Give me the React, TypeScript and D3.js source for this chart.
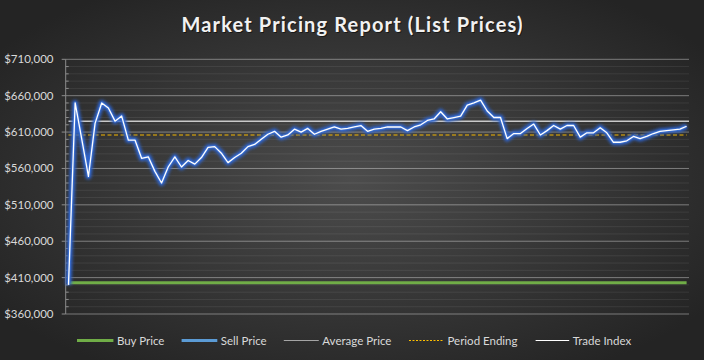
import React from "react";
import * as d3 from "d3";

const title = "Market Pricing Report (List Prices)";

// sell price per trade (thousands of dollars)
const sellPrice = [
  400, 650, 600, 549, 622, 650, 643, 625, 632, 599, 599, 574, 576, 556, 540, 562,
  576, 562, 571, 566, 575, 589, 590, 581, 568, 575, 581, 590, 593, 600, 607, 611,
  603, 606, 614, 610, 615, 607, 611, 614, 617, 614, 615, 617, 619, 611, 614, 615,
  617, 617, 617, 612, 617, 620, 626, 628, 638, 628, 630, 632, 647, 650, 654, 639,
  630, 630, 601, 608, 608, 615, 621, 606, 612, 619, 614, 619, 619, 603, 609, 609,
  616, 609, 596, 596, 598, 604, 601, 604, 608, 611, 612, 613, 614, 618,
].map((v) => v * 1000);
const tradeIndex = sellPrice;
const buyPrice = 403000;
const averagePrice = 625000;
const periodEnding = 606000;
const yTicks = [360000, 410000, 460000, 510000, 560000, 610000, 660000, 710000];
const legendItems = ["Buy Price", "Sell Price", "Average Price", "Period Ending", "Trade Index"];

const W = 704;
const H = 360;
const left = 65.7;
const right = 689;
const top = 59.3;
const bottom = 314;

const FONT = "Lato, 'Liberation Sans', sans-serif";

export default function App() {
  const idx = sellPrice.map((_, i) => i);
  const x = d3.scalePoint<number>().domain(idx).range([68.5, 686.6]);
  const y = d3.scaleLinear().domain([360000, 710000]).range([bottom, top]);
  const minor = d3.range(360000, 710001, 10000);

  const line = d3
    .line<number>()
    .x((_, i) => x(i) as number)
    .y((d) => y(d));

  const legendX = [77, 181.6, 283.8, 409, 535.6];
  const legendW = [36.4, 35.7, 35, 35, 33.6];
  const ly = 340.5;

  return (
    <svg
      width={W}
      height={H}
      style={{ position: "absolute", left: 0, top: 0, display: "block" }}
    >
      <defs>
        <radialGradient id="bg" cx="50%" cy="50%" r="62%">
          <stop offset="0%" stopColor="#4c4c4c" />
          <stop offset="100%" stopColor="#242424" />
        </radialGradient>
        <filter id="glow" x="-10%" y="-10%" width="120%" height="120%">
          <feGaussianBlur stdDeviation="1.8" />
        </filter>
        <filter id="shadow" x="-10%" y="-50%" width="120%" height="200%">
          <feGaussianBlur stdDeviation="1.5" />
        </filter>
      </defs>
      <rect width={W} height={H} fill="url(#bg)" />

      {/* Title */}
      <text
        x={W / 2 + 1}
        y={32.5}
        textAnchor="middle"
        fill="#000"
        opacity={0.5}
        fontFamily={FONT}
        fontWeight="bold"
        fontSize="20px"
        textLength={341}
        lengthAdjust="spacing"
      >
        {title}
      </text>
      <text
        x={W / 2}
        y={31.5}
        textAnchor="middle"
        fill="#f2f2f2"
        fontFamily={FONT}
        fontWeight="bold"
        fontSize="20px"
        textLength={341}
        lengthAdjust="spacing"
      >
        {title}
      </text>

      {/* Gridlines */}
      {minor.map((v) => (
        <line
          key={"m" + v}
          x1={left}
          x2={right}
          y1={y(v)}
          y2={y(v)}
          stroke="#ffffff"
          strokeOpacity={yTicks.includes(v) ? 0.38 : 0.08}
          strokeWidth={1}
        />
      ))}
      {/* Axis */}
      <line x1={left} x2={left} y1={top} y2={bottom} stroke="#8c8c8c" />
      {minor.map((v) =>
        yTicks.includes(v) ? (
          <line key={"t" + v} x1={left - 4} x2={left} y1={y(v)} y2={y(v)} stroke="#8c8c8c" />
        ) : (
          <line key={"t" + v} x1={left} x2={left + 3} y1={y(v)} y2={y(v)} stroke="#8c8c8c" />
        )
      )}
      {yTicks.map((v) => (
        <text
          key={"l" + v}
          x={53.5}
          y={y(v)}
          dy="0.35em"
          textAnchor="end"
          fill="#d9d9d9"
          fontFamily={FONT}
          fontSize="11.5px"
        >
          {d3.format("$,")(v)}
        </text>
      ))}

      {/* Buy price */}
      <line
        x1={x(0)}
        x2={x(idx.length - 1)}
        y1={y(buyPrice) + 2}
        y2={y(buyPrice) + 2}
        stroke="#000"
        strokeOpacity={0.5}
        strokeWidth={3}
        filter="url(#shadow)"
      />
      <line
        x1={x(0)}
        x2={x(idx.length - 1)}
        y1={y(buyPrice)}
        y2={y(buyPrice)}
        stroke="#70ad47"
        strokeWidth={3}
      />
      {/* Average price */}
      <line
        x1={x(0)}
        x2={right}
        y1={y(averagePrice)}
        y2={y(averagePrice)}
        stroke="#c9c9c9"
        strokeWidth={1.5}
      />
      {/* Period ending */}
      <line
        x1={x(0)}
        x2={x(idx.length - 1)}
        y1={y(periodEnding)}
        y2={y(periodEnding)}
        stroke="#f5b800"
        strokeWidth={1.2}
        strokeDasharray="4,2.5"
      />

      {/* Sell price glow */}
      <path
        d={line(sellPrice) ?? ""}
        fill="none"
        stroke="#2e62c8"
        strokeWidth={6}
        strokeLinejoin="round"
        filter="url(#glow)"
      />
      <path
        d={line(sellPrice) ?? ""}
        fill="none"
        stroke="#3d72d2"
        strokeWidth={3}
        strokeLinejoin="round"
        strokeOpacity={0.8}
      />
      {/* Trade index */}
      <path
        d={line(tradeIndex) ?? ""}
        fill="none"
        stroke="#ffffff"
        strokeWidth={1.3}
        strokeLinejoin="round"
      />

      {/* Legend */}
      {legendItems.map((name, i) => {
        const lx = legendX[i];
        const lw = legendW[i];
        let sample;
        if (i === 0)
          sample = <line x1={lx} x2={lx + lw} y1={ly} y2={ly} stroke="#70ad47" strokeWidth={3} />;
        else if (i === 1)
          sample = <line x1={lx} x2={lx + lw} y1={ly} y2={ly} stroke="#5b9bd5" strokeWidth={3} />;
        else if (i === 2)
          sample = <line x1={lx} x2={lx + lw} y1={ly} y2={ly} stroke="#a5a5a5" strokeWidth={1.2} />;
        else if (i === 3)
          sample = (
            <line x1={lx} x2={lx + lw} y1={ly} y2={ly} stroke="#ffc000" strokeWidth={1} strokeDasharray="2,1.5" />
          );
        else sample = <line x1={lx} x2={lx + lw} y1={ly} y2={ly} stroke="#ffffff" strokeWidth={1.2} />;
        return (
          <g key={name}>
            {sample}
            <text
              x={lx + lw + 3.5}
              y={ly}
              dy="0.35em"
              fill="#d9d9d9"
              fontFamily={FONT}
              fontSize="11.5px"
            >
              {name}
            </text>
          </g>
        );
      })}
    </svg>
  );
}
